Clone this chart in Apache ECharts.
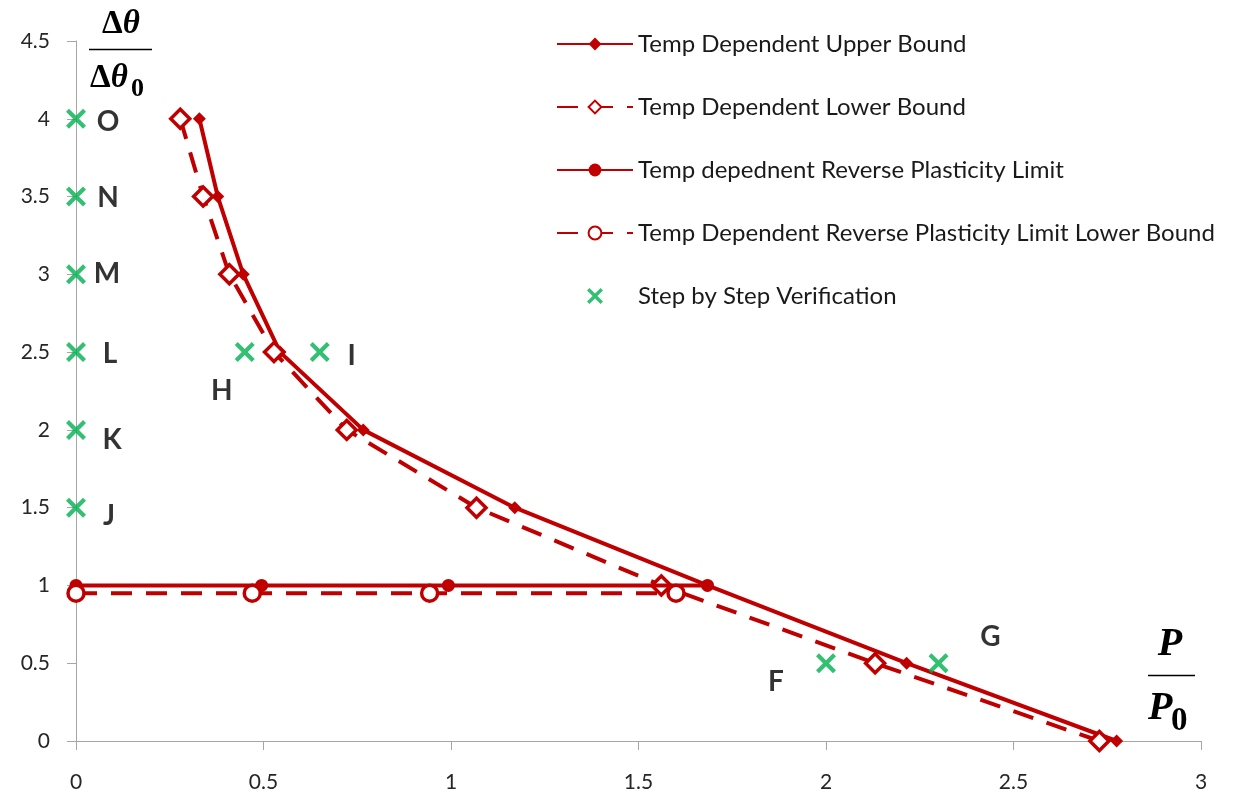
<!DOCTYPE html>
<html>
<head>
<meta charset="utf-8">
<title>Temperature dependent interaction diagram</title>
<script src="https://cdn.jsdelivr.net/npm/echarts@6/dist/echarts.min.js"></script>
<style>
  html, body { margin: 0; padding: 0; background: #ffffff; }
  #chart { width: 1234px; height: 799px; }
</style>
</head>
<body>
<div id="chart"></div>
<script>
// ---- data: load ratio P/P0 (x) against temperature ratio Δθ/Δθ0 (y) ----
const upperX = [0.329, 0.378, 0.446, 0.544, 0.766, 1.170, 1.684, 2.215, 2.775];
const upperY = [4, 3.5, 3, 2.5, 2, 1.5, 1, 0.5, 0];

const lowerX = [0.278, 0.339, 0.409, 0.528, 0.722, 1.068, 1.561, 2.131, 2.729];
const lowerY = [4, 3.5, 3, 2.5, 2, 1.5, 1, 0.5, 0];

const rplX = [0, 0.495, 0.993, 1.684];
const rplY = [1, 1, 1, 1];

const rplLowX = [0, 0.470, 0.943, 1.600];
const rplLowY = [0.95, 0.95, 0.95, 0.95];

const stepX = [0, 0, 0, 0, 0, 0, 0.45, 0.65, 2.0, 2.3];
const stepY = [4, 3.5, 3, 2.5, 2, 1.5, 2.5, 2.5, 0.5, 0.5];
const stepLabels = ['O', 'N', 'M', 'L', 'K', 'J', 'H', 'I', 'F', 'G'];

const seriesNames = [
  'Temp Dependent Upper Bound',
  'Temp Dependent Lower Bound',
  'Temp depednent Reverse Plasticity Limit',
  'Temp Dependent Reverse Plasticity Limit Lower Bound',
  'Step by Step Verification'
];

// ---- presentation ----
const RED = '#c00000';
const GREEN = '#00b050';
const AXIS = '#a6a6a6';
// pixel offsets of the step letters from their markers
const stepLabelOffsets = [[32, 3], [32, 1], [31, 0], [34, 2], [36, 10], [33, 8], [-23, 39], [32, 4], [-50, 19], [52, -26]];
const crossPath = 'path://M0,15L15,0L50,35L85,0L100,15L65,50L100,85L85,100L50,65L15,100L0,85L35,50Z';

const pairs = (xs, ys) => xs.map((x, i) => [x, ys[i]]);

const chart = echarts.init(document.getElementById('chart'), null, { renderer: 'canvas' });

const axisCommon = {
  type: 'value',
  axisLine: { show: true, onZero: false, lineStyle: { color: AXIS, width: 1 } },
  axisTick: { show: true, inside: false, length: 9, lineStyle: { color: AXIS, width: 1 } },
  splitLine: { show: false },
  axisLabel: { color: '#262626', fontSize: 21, fontFamily: 'Lato' }
};

chart.setOption({
  animation: false,
  backgroundColor: '#ffffff',
  grid: { left: 76, right: 33, top: 41, bottom: 58, containLabel: false },
  xAxis: Object.assign({}, axisCommon, {
    min: 0, max: 3, interval: 0.5,
    axisLabel: Object.assign({}, axisCommon.axisLabel, { margin: 31 })
  }),
  yAxis: Object.assign({}, axisCommon, {
    min: 0, max: 4.5, interval: 0.5,
    axisLabel: Object.assign({}, axisCommon.axisLabel, { margin: 26 })
  }),
  legend: {
    orient: 'vertical',
    left: 551,
    top: 27,
    itemWidth: 76,
    itemHeight: 16,
    itemGap: 39,
    textStyle: { fontSize: 24, color: '#1a1a1a', fontFamily: 'Lato' },
    data: seriesNames
  },
  series: [
    {
      name: seriesNames[0],
      type: 'line',
      data: pairs(upperX, upperY),
      symbol: 'diamond',
      symbolSize: 13,
      lineStyle: { color: RED, width: 4 },
      itemStyle: { color: RED },
      z: 2
    },
    {
      name: seriesNames[1],
      type: 'line',
      data: pairs(lowerX, lowerY),
      symbol: 'diamond',
      symbolSize: 19,
      lineStyle: { color: RED, width: 4, type: [21, 14] },
      itemStyle: { color: '#ffffff', borderColor: RED, borderWidth: 3.5 },
      z: 3
    },
    {
      name: seriesNames[2],
      type: 'line',
      data: pairs(rplX, rplY),
      symbol: 'circle',
      symbolSize: 13,
      lineStyle: { color: RED, width: 4 },
      itemStyle: { color: RED },
      z: 4
    },
    {
      name: seriesNames[3],
      type: 'line',
      data: pairs(rplLowX, rplLowY),
      symbol: 'circle',
      symbolSize: 16,
      lineStyle: { color: RED, width: 4, type: [21, 14] },
      itemStyle: { color: '#ffffff', borderColor: RED, borderWidth: 3.5 },
      z: 5
    },
    {
      name: seriesNames[4],
      type: 'scatter',
      symbol: crossPath,
      symbolSize: 20,
      symbolKeepAspect: true,
      itemStyle: { color: GREEN },
      data: stepX.map((x, i) => ({
        value: [x, stepY[i]],
        name: stepLabels[i],
        label: { offset: stepLabelOffsets[i] }
      })),
      label: {
        show: true,
        position: 'inside',
        formatter: p => p.name,
        color: '#000000',
        fontSize: 28,
        fontWeight: 'bold',
        fontFamily: 'Lato'
      },
      z: 6
    }
  ],
  graphic: [
    // y-axis title: Δθ / Δθ0
    {
      type: 'text', x: 121, y: 24,
      style: {
        text: '{d|Δ}{t|θ}', align: 'center', verticalAlign: 'middle',
        rich: {
          d: { fontFamily: 'Liberation Serif', fontWeight: 'bold', fontSize: 33, fill: '#000' },
          t: { fontFamily: 'Liberation Serif', fontWeight: 'bold', fontStyle: 'italic', fontSize: 33, fill: '#000' }
        }
      }
    },
    {
      type: 'line',
      shape: { x1: 89, y1: 49.5, x2: 152, y2: 49.5 },
      style: { stroke: '#000', lineWidth: 1.5 }
    },
    {
      type: 'text', x: 90, y: 78,
      style: {
        text: '{d|Δ}{t|θ}', align: 'left', verticalAlign: 'middle',
        rich: {
          d: { fontFamily: 'Liberation Serif', fontWeight: 'bold', fontSize: 33, fill: '#000' },
          t: { fontFamily: 'Liberation Serif', fontWeight: 'bold', fontStyle: 'italic', fontSize: 33, fill: '#000' }
        }
      }
    },
    {
      type: 'text', x: 131, y: 89,
      style: { text: '0', align: 'left', verticalAlign: 'middle', fontFamily: 'Liberation Serif', fontWeight: 'bold', fontSize: 26, fill: '#000' }
    },
    // x-axis title: P / P0
    {
      type: 'text', x: 1170, y: 645,
      style: { text: 'P', align: 'center', verticalAlign: 'middle', fontFamily: 'Liberation Serif', fontWeight: 'bold', fontStyle: 'italic', fontSize: 40, fill: '#000' }
    },
    {
      type: 'line',
      shape: { x1: 1148, y1: 675.5, x2: 1195, y2: 675.5 },
      style: { stroke: '#000', lineWidth: 1.5 }
    },
    {
      type: 'text', x: 1148, y: 709,
      style: { text: 'P', align: 'left', verticalAlign: 'middle', fontFamily: 'Liberation Serif', fontWeight: 'bold', fontStyle: 'italic', fontSize: 40, fill: '#000' }
    },
    {
      type: 'text', x: 1171, y: 721,
      style: { text: '0', align: 'left', verticalAlign: 'middle', fontFamily: 'Liberation Serif', fontWeight: 'bold', fontSize: 33, fill: '#000' }
    }
  ]
});
</script>
</body>
</html>
